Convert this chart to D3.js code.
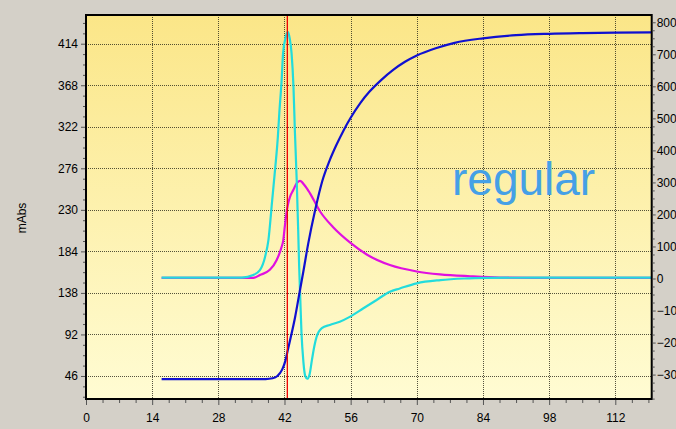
<!DOCTYPE html>
<html><head><meta charset="utf-8">
<script src="https://cdn.jsdelivr.net/npm/d3@7"></script>
<style>
html,body{margin:0;padding:0;background:#d4d0c8;overflow:hidden}
text{font-family:"Liberation Sans Narrow","Liberation Sans",Arial,sans-serif}
</style></head>
<body><svg id="c" width="676" height="429"></svg>
<script>
// ---- data ----
const xTicks = [0, 14, 28, 42, 56, 70, 84, 98, 112];
const leftTicks = [46, 92, 138, 184, 230, 276, 322, 368, 414];
const rightTicks = [-300, -200, -100, 0, 100, 200, 300, 400, 500, 600, 700, 800];
const markerTime = 42.6;
const annotation = "regular";
const yTitle = "mAbs";

// blue series (left axis)
const blueT = [16, 20, 25, 30, 35, 38, 39.5, 40.5, 41.5, 42.2, 42.8, 43.5, 44.2, 45, 46, 47, 48.5, 50, 51.5, 53, 54.5, 56, 58, 60, 62.5, 65, 67.5, 70, 74, 78, 84, 91, 98, 105, 112, 119.7];
const blueV = [42.5, 42.5, 42.5, 42.5, 42.5, 42.6, 43.5, 46, 53, 63, 77, 93, 110, 133, 162, 192, 230, 262, 284, 302, 318, 332, 348, 361, 374, 385, 394, 401, 409, 415, 420, 423.5, 425, 425.8, 426.3, 426.6];

// cyan series (right axis)
const cyanT = [16, 25, 33, 35.4, 36.8, 37.9, 38.6, 39.4, 40.0, 40.6, 40.9, 41.4, 41.7, 42.2, 42.7, 43.1, 43.5, 43.9, 44.2, 44.6, 44.9, 45.1, 45.3, 45.6, 46.0, 46.4, 46.8, 47.3, 47.8, 48.3, 48.8, 49.9, 51.6, 53.7, 55.9, 58.7, 61.5, 64.3, 66.4, 70, 75, 80, 85, 95, 105, 119.7];
const cyanV = [3, 3, 3, 11, 26, 68, 120, 245, 339, 443, 516, 620, 703, 750, 770, 750, 703, 599, 460, 300, 150, 40, -46, -171, -260, -305, -313, -300, -255, -212, -182, -155, -145, -135, -119, -93, -67, -41, -31, -15, -5, 0, 2, 3, 3, 3];

// magenta series (right axis)
const magT = [16, 25, 33, 35.4, 36.8, 38.9, 40.35, 41.4, 41.75, 42.1, 42.7, 43.17, 43.86, 44.6, 45.28, 46.2, 47.4, 49.5, 52.3, 55.9, 59.4, 64.3, 70, 74.9, 81.3, 87.6, 95, 105, 119.7];
const magV = [2, 2, 2, 2, 11, 27, 58, 99, 120, 167, 229, 255, 276, 298, 305, 292, 266, 210, 160, 112, 75, 42, 22, 13, 7, 3, 2, 2, 2];

// ---- layout ----
const L = 86, R = 651.7, T = 15, B = 399;
const svg = d3.select("#c");
const x = d3.scaleLinear().domain([0, 119.7]).range([L, R]);
const yL = d3.scaleLinear().domain([20.5, 445.8]).range([B, T]);
const yR = d3.scaleLinear().domain([-376.2, 822.7]).range([B, T]);

const defs = svg.append("defs");
const grad = defs.append("linearGradient").attr("id", "bg").attr("x1", 0).attr("y1", 0).attr("x2", 0).attr("y2", 1);
grad.append("stop").attr("offset", "0%").attr("stop-color", "#fbe688");
grad.append("stop").attr("offset", "100%").attr("stop-color", "#fffcd3");
defs.append("clipPath").attr("id", "clip").append("rect").attr("x", L).attr("y", T).attr("width", R - L).attr("height", B - T);

svg.append("rect").attr("x", L).attr("y", T).attr("width", R - L).attr("height", B - T).attr("fill", "url(#bg)");

// grid
const grid = svg.append("g").attr("stroke", "#2a2a1a").attr("stroke-width", 1).attr("stroke-dasharray", "1,1").attr("opacity", 0.8);
xTicks.filter(t => t > 0).forEach(t => {
  grid.append("line").attr("x1", Math.round(x(t)) + 0.5).attr("x2", Math.round(x(t)) + 0.5).attr("y1", T).attr("y2", B);
});
leftTicks.forEach(t => {
  grid.append("line").attr("y1", Math.round(yL(t)) + 0.5).attr("y2", Math.round(yL(t)) + 0.5).attr("x1", L).attr("x2", R);
});

// series
const plot = svg.append("g").attr("clip-path", "url(#clip)");
function draw(T_, V_, ys, color) {
  const pts = T_.map((t, i) => [t, V_[i]]);
  plot.append("path").datum(pts)
    .attr("fill", "none").attr("stroke", color).attr("stroke-width", 2.2).attr("stroke-linejoin", "round")
    .attr("d", d3.line().x(d => x(d[0])).y(d => ys(d[1])).curve(d3.curveMonotoneX));
}
draw(magT, magV, yR, "#e010e0");
draw(cyanT, cyanV, yR, "#22dcdc");
draw(blueT, blueV, yL, "#1010d0");

// marker line
plot.append("line").attr("x1", x(markerTime)).attr("x2", x(markerTime)).attr("y1", T).attr("y2", B)
  .attr("stroke", "#ee0000").attr("stroke-width", 1.3);

// annotation
svg.append("text").attr("x", 452).attr("y", 195).text(annotation)
  .style("font-family", "'Liberation Sans', Arial, sans-serif")
  .attr("font-size", 46).attr("fill", "#45a0e6");

// border
svg.append("rect").attr("x", L).attr("y", T).attr("width", R - L).attr("height", B - T)
  .attr("fill", "none").attr("stroke", "#000").attr("stroke-width", 2);

// axes
function range(a, b, s) { const r = []; for (let v = a; v <= b + 1e-9; v += s) r.push(+v.toFixed(3)); return r; }
const xMinor = range(0, 119.7, 3.5).filter(v => !xTicks.includes(v));
const lMinor = range(23, 445, 11.5).filter(v => !leftTicks.includes(v));
const rMinor = range(-375, 820, 25).filter(v => !rightTicks.includes(v));

function style(g) {
  g.select(".domain").remove();
  g.selectAll("line").attr("stroke", "#555");
  g.selectAll("text").attr("fill", "#000").attr("font-size", 12)
    .style("font-family", "'Liberation Sans Narrow','Liberation Sans',Arial,sans-serif");
}
svg.append("g").attr("transform", `translate(0,${B + 1})`)
  .call(d3.axisBottom(x).tickValues(xMinor).tickSize(3).tickFormat("")).call(style);
svg.append("g").attr("transform", `translate(0,${B + 1})`)
  .call(d3.axisBottom(x).tickValues(xTicks).tickSize(5).tickPadding(8.5).tickFormat(d3.format("d"))).call(style);

svg.append("g").attr("transform", `translate(${L - 1},0)`)
  .call(d3.axisLeft(yL).tickValues(lMinor).tickSize(2).tickFormat("")).call(style);
svg.append("g").attr("transform", `translate(${L - 1},0)`)
  .call(d3.axisLeft(yL).tickValues(leftTicks).tickSize(4).tickPadding(3).tickFormat(d3.format("d"))).call(style);

svg.append("g").attr("transform", `translate(${R + 1},0)`)
  .call(d3.axisRight(yR).tickValues(rMinor).tickSize(2).tickFormat("")).call(style);
svg.append("g").attr("transform", `translate(${R + 1},0)`)
  .call(d3.axisRight(yR).tickValues(rightTicks).tickSize(3).tickPadding(1).tickFormat(d3.format("d"))).call(style);

// y title
svg.append("text").attr("transform", "translate(26,218) rotate(-90)").attr("text-anchor", "middle")
  .attr("font-size", 12).attr("fill", "#000").text(yTitle);
</script></body></html>
